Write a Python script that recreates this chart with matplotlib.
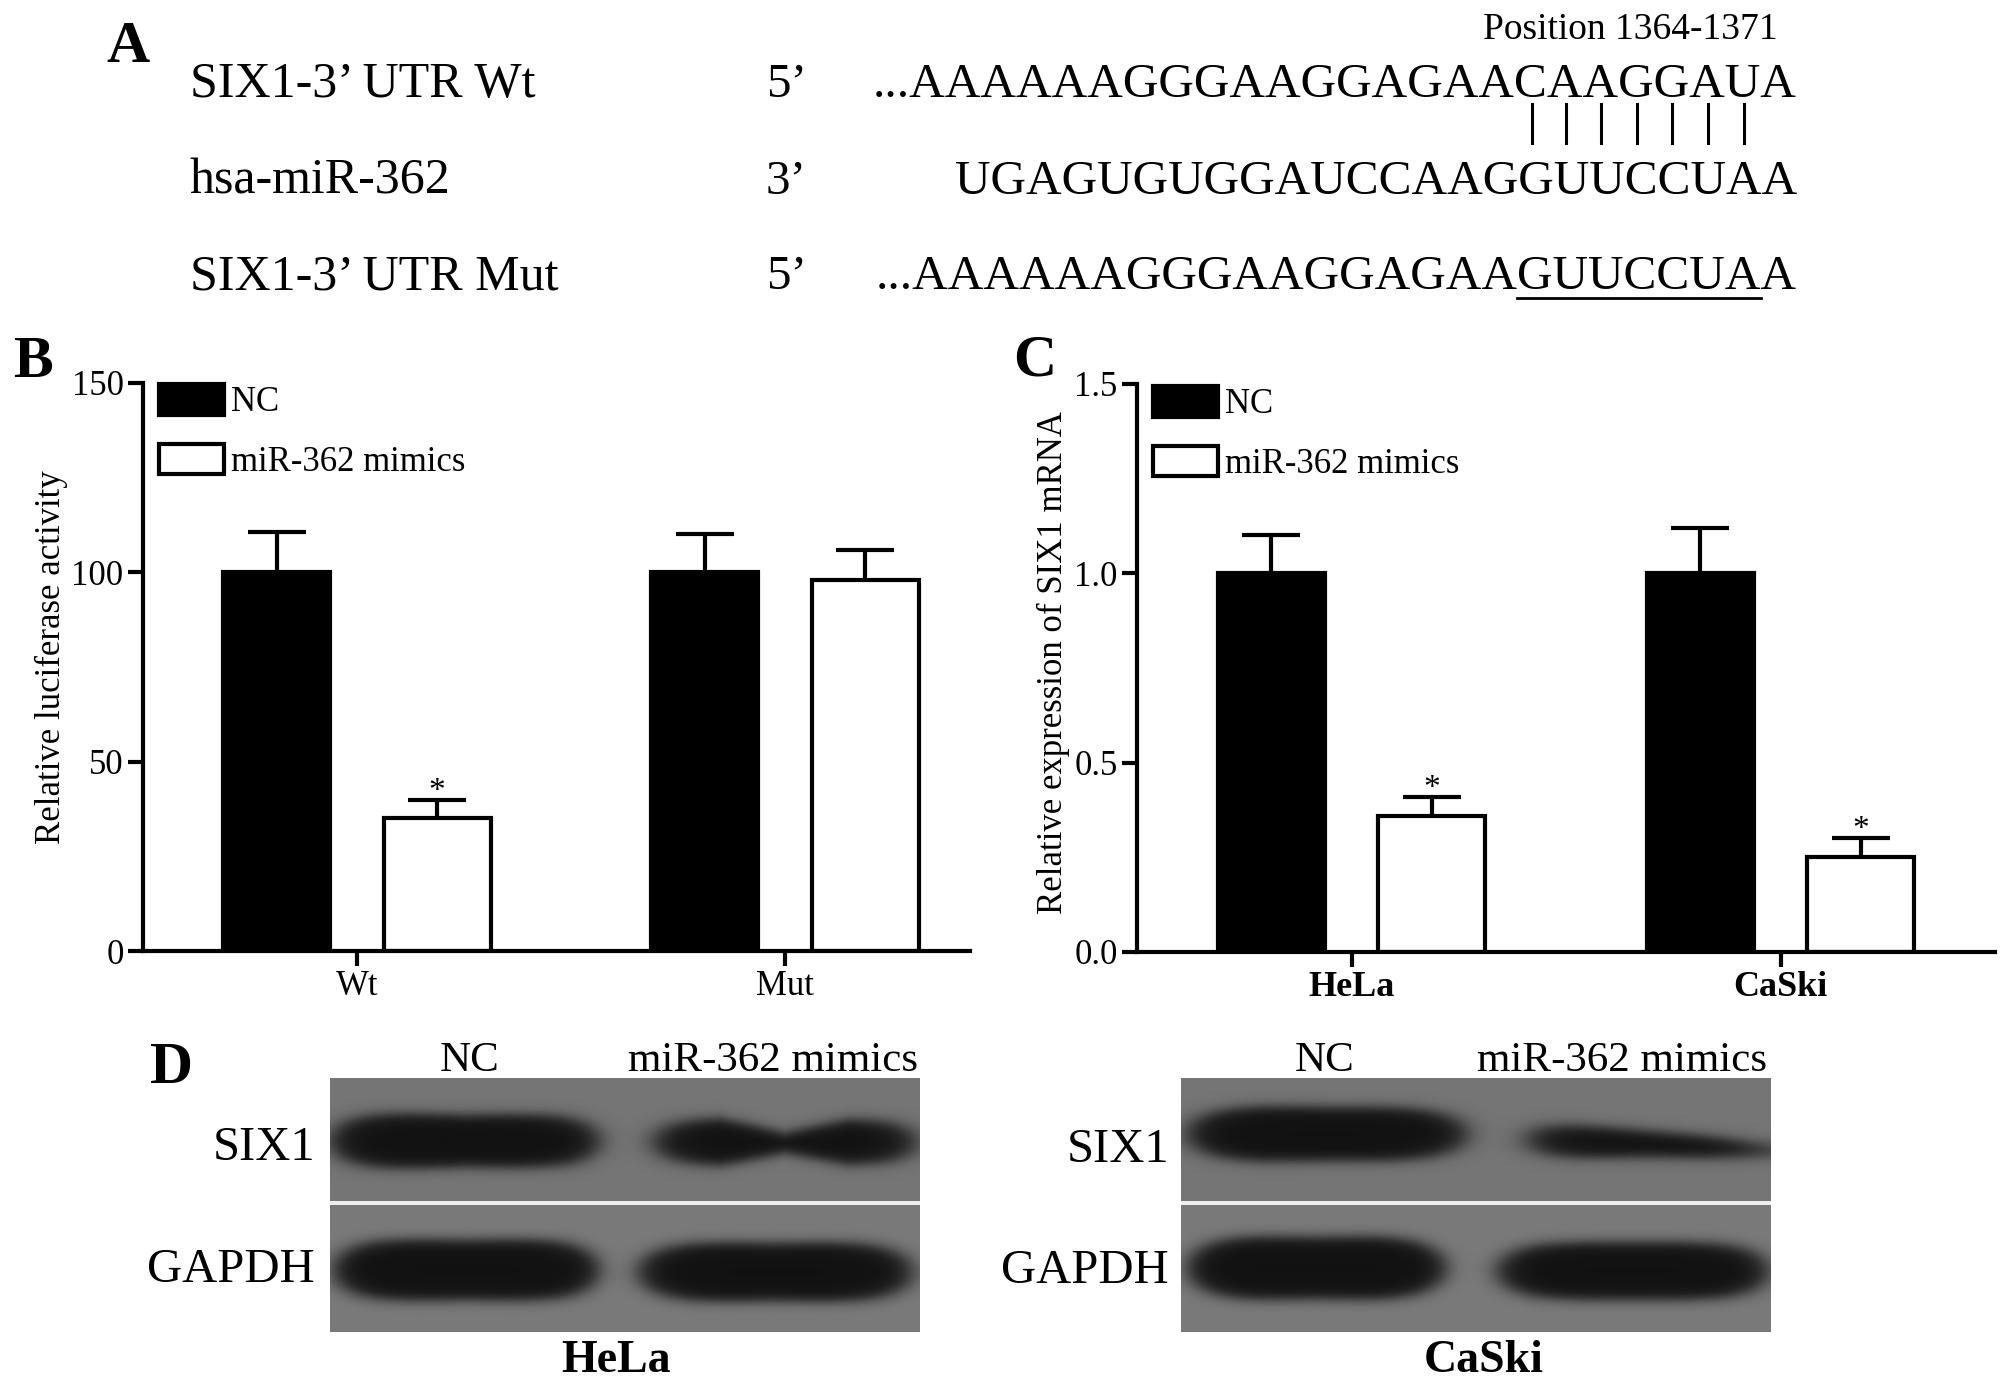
import numpy as np
import matplotlib.pyplot as plt
from matplotlib.lines import Line2D

plt.rcParams['font.family'] = ['Liberation Serif', 'DejaVu Serif']

W, H = 2008, 1385

# panel A: sequences
seq_names = ['SIX1-3\u2019 UTR Wt', 'hsa-miR-362', 'SIX1-3\u2019 UTR Mut']
seq_ends = ['5\u2019', '3\u2019', '5\u2019']
seq_text = ['...AAAAAAGGGAAGGAGAACAAGGAUA',
            'UGAGUGUGGAUCCAAGGUUCCUAA',
            '...AAAAAAGGGAAGGAGAAGUUCCUAA']
site_label = 'Position 1364-1371'

# panel B: luciferase
luc_groups = ['Wt', 'Mut']
luc_nc = [100, 100]
luc_nc_err = [10.6, 10.0]
luc_mimic = [35, 98]
luc_mimic_err = [5, 8]
luc_star = [True, False]

# panel C: qPCR
mrna_groups = ['HeLa', 'CaSki']
mrna_nc = [1.0, 1.0]
mrna_nc_err = [0.10, 0.12]
mrna_mimic = [0.36, 0.25]
mrna_mimic_err = [0.05, 0.05]
mrna_star = [True, True]

series_labels = ['NC', 'miR-362 mimics']

# panel D: western blot bands, (x0, x1, centre y at 5 points, half thickness at 5 points)
blot_lanes = ['NC', 'miR-362 mimics']
blot_rows = ['SIX1', 'GAPDH']
hela_bands = [
    (2, 268, (63, 63, 63, 63, 63), (30, 28, 26, 27, 29)),
    (326, 584, (64, 64, 65, 64, 64), (25, 24, 10, 23, 25)),
    (5, 268, (192, 192, 192, 192, 192), (33, 31, 30, 31, 33)),
    (310, 581, (194, 194, 194, 194, 194), (31, 30, 29, 30, 31)),
]
caski_bands = [
    (8, 284, (56, 56, 56, 56, 56), (28, 28, 27, 27, 27)),
    (350, 584, (62, 64, 66, 69, 72), (19, 16, 13, 11, 8)),
    (8, 264, (190, 190, 190, 190, 190), (33, 32, 31, 32, 32)),
    (318, 586, (193, 193, 193, 193, 193), (30, 29, 29, 29, 30)),
]


def fx(px):
    return px / W


def fy(py):
    return 1 - py / H


def box(l, t, r, b):
    return [l / W, 1 - b / H, (r - l) / W, (b - t) / H]


fig = plt.figure(figsize=(W / 100, H / 100), dpi=100)


def bar_panel(ax, groups, nc, nc_err, mimic, mimic_err, stars, xmax, bold, ylim, yticks, ylabels, ylabel, ylab_x, ylab_y, leg_xy):
    x = np.arange(len(groups))
    off, width = 0.187, 0.25
    # error bars sit under the bars so only the upper half shows
    ax.errorbar(x - off, nc, yerr=nc_err, fmt='none', ecolor='black', elinewidth=3,
                capsize=21, capthick=3, zorder=1)
    ax.errorbar(x + off, mimic, yerr=mimic_err, fmt='none', ecolor='black', elinewidth=3,
                capsize=21, capthick=3, zorder=1)
    b1 = ax.bar(x - off, nc, width, color='black', edgecolor='black', linewidth=3, zorder=2)
    b2 = ax.bar(x + off, mimic, width, color='white', edgecolor='black', linewidth=3, zorder=2)
    for i, s in enumerate(stars):
        if s:
            ax.text(x[i] + off, mimic[i] + mimic_err[i], '*', ha='center', va='baseline',
                    fontsize=24)
    ax.set_xlim(-0.5, xmax)
    ax.set_ylim(*ylim)
    ax.set_yticks(yticks, ylabels)
    ax.set_xticks(x, groups, fontweight='bold' if bold else 'normal')
    ax.spines[['top', 'right']].set_visible(False)
    ax.spines[['left', 'bottom']].set_linewidth(3)
    ax.tick_params(direction='out', length=11, width=3, labelsize=25, pad=3)
    ax.set_ylabel(ylabel, fontsize=25, va='center', ha='center')
    ax.yaxis.set_label_coords(ylab_x, ylab_y)
    ax.legend([b1, b2], series_labels, loc='upper left',
              bbox_to_anchor=(fx(leg_xy[0]), fy(leg_xy[1])), bbox_transform=fig.transFigure,
              frameon=False, fontsize=25, borderpad=0, borderaxespad=0,
              handlelength=1.87, handleheight=0.98, handletextpad=0.2, labelspacing=0.7)


axB = fig.add_axes(box(143, 383, 970, 951))
bar_panel(axB, luc_groups, luc_nc, luc_nc_err, luc_mimic, luc_mimic_err, luc_star,
          (970 - 143) / 428 - 0.5, False, (0, 150), [0, 50, 100, 150], ['0', '50', '100', '150'],
          'Relative luciferase activity', (51 - 143) / 827, 0.518, (159, 384))

axC = fig.add_axes(box(1137, 384, 1995, 952))
bar_panel(axC, mrna_groups, mrna_nc, mrna_nc_err, mrna_mimic, mrna_mimic_err, mrna_star,
          1.5, True, (0, 1.5), [0, 0.5, 1.0, 1.5], ['0.0', '0.5', '1.0', '1.5'],
          'Relative expression of SIX1 mRNA', (1053 - 1137) / 858, 0.51, (1153, 386))
for lab in axC.get_xticklabels():
    lab.set_fontsize(26)


# panel A
row_base = [97, 194, 289]
for name, end, seq, yb in zip(seq_names, seq_ends, seq_text, row_base):
    fig.text(fx(190), fy(yb), name, fontsize=36, va='baseline', ha='left')
    fig.text(fx(766), fy(yb), end, fontsize=35.5, va='baseline', ha='left')
    fig.text(fx(1797), fy(yb), seq, fontsize=35.5, va='baseline', ha='right')
fig.text(fx(1483), fy(39), site_label, fontsize=27, va='baseline', ha='left')
for xb in [1532, 1566, 1601, 1637, 1672, 1708, 1744]:
    fig.add_artist(Line2D([fx(xb), fx(xb)], [fy(104), fy(143)], transform=fig.transFigure,
                          color='black', lw=2.2))
fig.add_artist(Line2D([fx(1517), fx(1761)], [fy(298), fy(298)], transform=fig.transFigure,
                      color='black', lw=2.0))


# panel D
def blot_image(bands, w, h, sep_y):
    yy, xx = np.mgrid[0:h, 0:w] + 0.5
    img = np.where(yy < sep_y, 0.46, 0.48)
    us = [-1, -0.5, 0, 0.5, 1]
    for x0, x1, ycs, hs in bands:
        xc = (x0 + x1) / 2
        half = (x1 - x0) / 2
        u = (xx - xc) / half
        uc = np.clip(u, -1, 1)
        yc = np.interp(uc, us, ycs)
        hh = np.interp(uc, us, hs)
        v = (yy - yc) / hh
        f = (np.abs(u) ** 4 + np.abs(v) ** 2) ** 0.5
        d = (f - 1) * hh
        mask = 1 / (1 + np.exp(np.clip(d / 3.5, -50, 50)))
        img = img * (1 - mask) + 0.07 * mask
    img[sep_y - 2:sep_y + 2, :] = 0.93
    return img


def blot_panel(left, bands):
    w, h = 590, 254
    ax = fig.add_axes(box(left, 1078, left + w, 1078 + h))
    ax.imshow(blot_image(bands, w, h, 125), cmap='gray', vmin=0, vmax=1,
              extent=(0, w, h, 0), aspect='auto', interpolation='bilinear')
    ax.axis('off')


blot_panel(330, hela_bands)
blot_panel(1181, caski_bands)

for xs in [(470, 773), (1325, 1622)]:
    for xl, lane in zip(xs, blot_lanes):
        fig.text(fx(xl), fy(1071), lane, fontsize=31, ha='center', va='baseline')
for xr, yb in [(315, (1160, 1282)), (1169, (1162, 1283))]:
    for row, y in zip(blot_rows, yb):
        fig.text(fx(xr), fy(y), row, fontsize=35, ha='right', va='baseline')
fig.text(fx(616), fy(1372), 'HeLa', fontsize=33, fontweight='bold', ha='center', va='baseline')
fig.text(fx(1484), fy(1372), 'CaSki', fontsize=33, fontweight='bold', ha='center', va='baseline')

# panel letters
for letter, (xl, yb) in zip('ABCD', [(106, 62), (13, 377), (1013, 375), (150, 1083)]):
    fig.text(fx(xl), fy(yb), letter, fontsize=43, fontweight='bold', ha='left', va='baseline')

fig.savefig('out.png', dpi=100, facecolor='white')
